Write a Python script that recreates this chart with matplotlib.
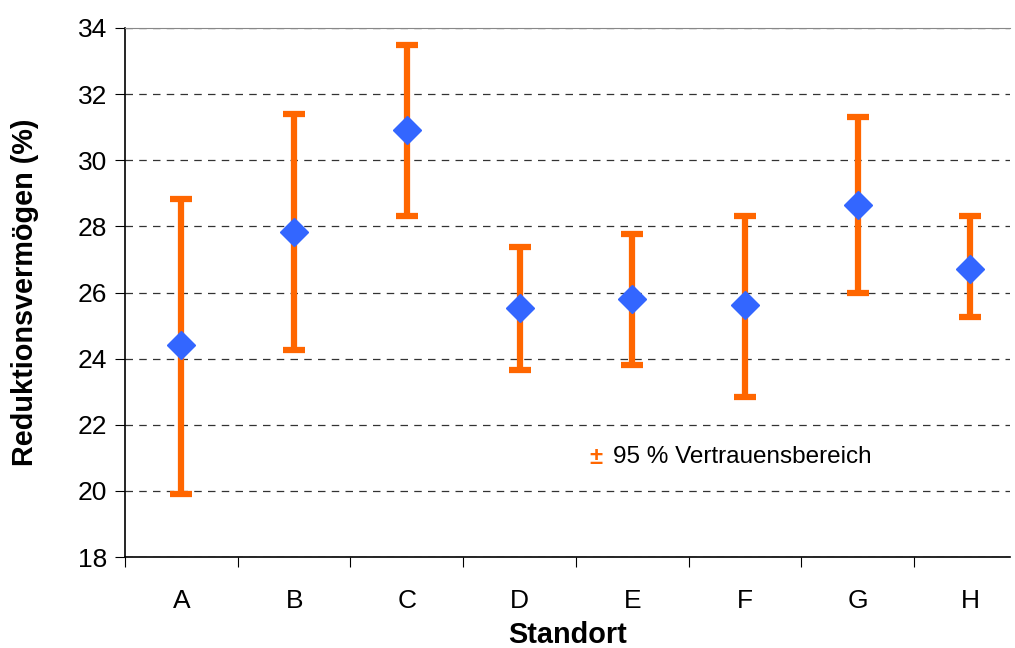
import matplotlib
matplotlib.use("Agg")
import matplotlib.pyplot as plt
import numpy as np

plt.rcParams['font.family'] = ['Liberation Sans', 'DejaVu Sans']

standorte = ["A", "B", "C", "D", "E", "F", "G", "H"]
mittelwert = [24.41, 27.83, 30.91, 25.53, 25.80, 25.62, 28.65, 26.71]
obere_grenze = [28.83, 31.40, 33.49, 27.38, 27.77, 28.31, 31.31, 28.31]
untere_grenze = [19.90, 24.26, 28.31, 23.66, 23.80, 22.84, 26.00, 25.26]

orange = "#FF6600"
blau = "#3366FF"

fig = plt.figure(figsize=(10.15, 6.48), dpi=100)
ax = fig.add_axes([0.1232, 0.1404, 0.8718, 0.8164])

x = np.arange(len(standorte))
m = np.array(mittelwert)
err = [m - np.array(untere_grenze), np.array(obere_grenze) - m]

eb = ax.errorbar(x, m, yerr=err, fmt="none", ecolor=orange, elinewidth=4.5,
                 capsize=8, capthick=4.5, zorder=3)
for cap in eb[1]:
    cap.set_solid_capstyle("round")
ax.plot(x, m, linestyle="none", marker="D", markersize=14,
        color=blau, markeredgecolor=blau, zorder=4)

ax.set_yticks(np.arange(18, 35, 2))
ax.tick_params(axis="y", labelsize=19, length=7, direction="out", pad=6)

# category boundaries carry the tick marks, labels sit in between
ax.set_xticks(np.arange(-0.5, 7.6, 1.0))
ax.set_xticklabels([])
ax.set_xticks(x, minor=True)
ax.set_xticklabels(standorte, minor=True, fontsize=19)
ax.tick_params(axis="x", which="major", length=7, direction="out")
ax.tick_params(axis="x", which="minor", length=0, pad=23)

ax.set_ylim(18, 34)
ax.set_xlim(-0.5, 7.35)

ax.yaxis.grid(True, linestyle=(0, (6, 5)), color="#333333", linewidth=0.9)
ax.set_axisbelow(True)

ax.spines["right"].set_visible(False)
ax.spines["top"].set_color("#888888")
ax.spines["left"].set_linewidth(1.2)
ax.spines["bottom"].set_linewidth(1.2)

ax.set_ylabel("Reduktionsvermögen (%)", fontsize=20.8, fontweight="bold", labelpad=28)
ax.set_xlabel("Standort", fontsize=20.8, fontweight="bold", labelpad=6)

ax.text(3.62, 21.02, "±", color=orange, fontsize=17, fontweight="bold",
        ha="left", va="center")
ax.text(3.83, 21.02, "95 % Vertrauensbereich", color="black", fontsize=17.5,
        ha="left", va="center")

fig.savefig("out.png", dpi=100)
